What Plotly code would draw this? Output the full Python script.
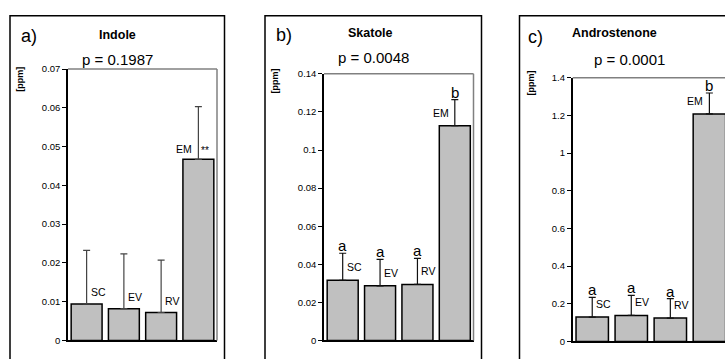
import plotly.graph_objects as go

# ---------------- data ----------------
categories = ["SC", "EV", "RV", "EM"]

indole_mean = [0.0094, 0.0082, 0.0072, 0.0467]
indole_err = [0.0138, 0.0141, 0.0135, 0.0136]
indole_marks = ["", "", "", ""]

skatole_mean = [0.0316, 0.0287, 0.0294, 0.1128]
skatole_err = [0.0142, 0.0139, 0.0137, 0.0137]
skatole_marks = ["a", "a", "a", "b"]

andro_mean = [0.129, 0.138, 0.124, 1.208]
andro_err = [0.105, 0.106, 0.103, 0.111]
andro_marks = ["a", "a", "a", "b"]

panel_letters = ["a)", "b)", "c)"]
titles = ["Indole", "Skatole", "Androstenone"]
pvalues = ["p = 0.1987", "p = 0.0048", "p = 0.0001"]
y_label = "[ppm]"

indole_ticks = [0, 0.01, 0.02, 0.03, 0.04, 0.05, 0.06, 0.07]
indole_ticktext = ["0", "0.01", "0.02", "0.03", "0.04", "0.05", "0.06", "0.07"]
skatole_ticks = [0, 0.02, 0.04, 0.06, 0.08, 0.1, 0.12, 0.14]
skatole_ticktext = ["0", "0.02", "0.04", "0.06", "0.08", "0.1", "0.12", "0.14"]
andro_ticks = [0, 0.2, 0.4, 0.6, 0.8, 1.0, 1.2, 1.4]
andro_ticktext = ["0", "0.2", "0.4", "0.6", "0.8", "1", "1.2", "1.4"]
star_text = "**"

# ---------------- layout helpers ----------------
W, H = 725, 359
FONT = "Liberation Sans, Arial, sans-serif"


def px(x):
    return x / W


def py(y):
    return 1 - y / H


panels = [
    dict(mean=indole_mean, err=indole_err, marks=indole_marks, ticks=indole_ticks,
         ticktext=indole_ticktext, yr=[0, 0.07], xdom=[px(68), px(217)],
         ydom=[py(345), py(65)], xr=[-0.5, 3.5], box=[10, 224.5], right=True,
         letter_xy=(19, 31), title_xy=(117.5, 30), p_xy=(118, 55), ppm_xy=(20, 76),
         lab_shift=4, em_shift=2, ecolors="#444444"),
    dict(mean=skatole_mean, err=skatole_err, marks=skatole_marks, ticks=skatole_ticks,
         ticktext=skatole_ticktext, yr=[0, 0.14], xdom=[px(324), px(473.5)],
         ydom=[py(345), py(70)], xr=[-0.5, 3.5], box=[265, 481.5], right=True,
         letter_xy=(274, 30), title_xy=(370, 28), p_xy=(373, 53), ppm_xy=(275, 78),
         lab_shift=5, em_shift=5, ecolors="#111111"),
    dict(mean=andro_mean, err=andro_err, marks=andro_marks, ticks=andro_ticks,
         ticktext=andro_ticktext, yr=[0, 1.4], xdom=[px(572.7), 1.0],
         ydom=[py(346), py(74)], xr=[-0.5, 3.40], box=[519.5, 760], right=False,
         letter_xy=(526, 32), title_xy=(614, 28), p_xy=(629, 55), ppm_xy=(531, 80),
         lab_shift=5, em_shift=5, ecolors="#111111"),
]

fig = go.Figure()
annotations = []
shapes = []

for i, p in enumerate(panels):
    sfx = "" if i == 0 else str(i + 1)
    xa, ya = "x" + sfx, "y" + sfx
    fig.add_trace(go.Bar(
        x=categories, y=p["mean"], xaxis=xa, yaxis=ya,
        marker=dict(color="#c0c0c0", line=dict(color="black", width=1.5)),
        error_y=dict(type="data", array=p["err"], arrayminus=[0] * len(p["err"]),
                     symmetric=False, color=p["ecolors"], thickness=1.2, width=3.5),
        width=0.83, showlegend=False, hoverinfo="skip",
    ))
    fig.layout["xaxis" + sfx] = dict(
        domain=p["xdom"], anchor=ya, range=p["xr"], showticklabels=False,
        ticks="", showline=True, linecolor="black", linewidth=1.5,
        showgrid=False, zeroline=False, fixedrange=True,
    )
    fig.layout["yaxis" + sfx] = dict(
        domain=p["ydom"], anchor=xa, range=p["yr"], tickvals=p["ticks"],
        ticktext=p["ticktext"], ticks="outside", ticklen=4, tickwidth=1,
        tickcolor="black", showline=True, linecolor="black", linewidth=1.5,
        showgrid=False, zeroline=False,
        tickfont=dict(family=FONT, size=9.5, color="black"), fixedrange=True,
    )
    # plot area frame: top and right lines in grey
    shapes.append(dict(type="line", xref=xa + " domain", yref=ya + " domain",
                       x0=0, x1=1, y0=1, y1=1, line=dict(color="#808080", width=1.5)))
    if p["right"]:
        shapes.append(dict(type="line", xref=xa + " domain", yref=ya + " domain",
                           x0=1, x1=1, y0=0, y1=1, line=dict(color="#808080", width=1.5)))
    # outer panel box
    shapes.append(dict(type="rect", xref="paper", yref="paper",
                       x0=px(p["box"][0]), x1=px(p["box"][1]), y0=-0.1, y1=py(10),
                       line=dict(color="black", width=1.5), fillcolor="rgba(0,0,0,0)"))
    # texts
    annotations.append(dict(text=panel_letters[i], xref="paper", yref="paper",
                            x=px(p["letter_xy"][0]), y=py(p["letter_xy"][1]),
                            xanchor="left", yanchor="middle", showarrow=False,
                            font=dict(family=FONT, size=18, color="black")))
    annotations.append(dict(text="<b>" + titles[i] + "</b>", xref="paper", yref="paper",
                            x=px(p["title_xy"][0]), y=py(p["title_xy"][1]),
                            xanchor="center", yanchor="middle", showarrow=False,
                            font=dict(family=FONT, size=12.5, color="black")))
    annotations.append(dict(text=pvalues[i], xref="paper", yref="paper",
                            x=px(p["p_xy"][0]), y=py(p["p_xy"][1]),
                            xanchor="center", yanchor="middle", showarrow=False,
                            font=dict(family=FONT, size=15, color="black")))
    annotations.append(dict(text="<b>" + y_label + "</b>", xref="paper", yref="paper",
                            x=px(p["ppm_xy"][0]), y=py(p["ppm_xy"][1]), textangle=-90,
                            xanchor="center", yanchor="middle", showarrow=False,
                            font=dict(family=FONT, size=9, color="black")))
    # bar labels
    for j, cat in enumerate(categories):
        last = j == len(categories) - 1
        annotations.append(dict(
            text=cat, xref=xa, yref=ya, x=cat, y=p["mean"][j],
            xanchor="right" if last else "left", yanchor="bottom",
            xshift=-4 if last else 2, yshift=p["em_shift"] if last else p["lab_shift"],
            showarrow=False, font=dict(family=FONT, size=10.5, color="black")))
        if p["marks"][j]:
            annotations.append(dict(
                text=p["marks"][j], xref=xa, yref=ya, x=cat,
                y=p["mean"][j] + p["err"][j], xanchor="center", yanchor="bottom",
                yshift=-3, showarrow=False,
                font=dict(family=FONT, size=15, color="black")))
    if i == 0:
        annotations.append(dict(
            text=star_text, xref=xa, yref=ya, x=categories[-1], y=p["mean"][-1],
            xanchor="left", yanchor="bottom", xshift=1, yshift=1, showarrow=False,
            font=dict(family=FONT, size=10, color="black")))

fig.update_layout(
    width=W, height=H, margin=dict(l=0, r=0, t=0, b=0),
    paper_bgcolor="white", plot_bgcolor="white",
    bargap=0.17, annotations=annotations, shapes=shapes,
    font=dict(family=FONT, color="black"),
)

fig.write_html(
    "out.html",
    config={"displayModeBar": False},
    post_script="document.body.style.margin='0';document.body.style.overflow='hidden';",
)
